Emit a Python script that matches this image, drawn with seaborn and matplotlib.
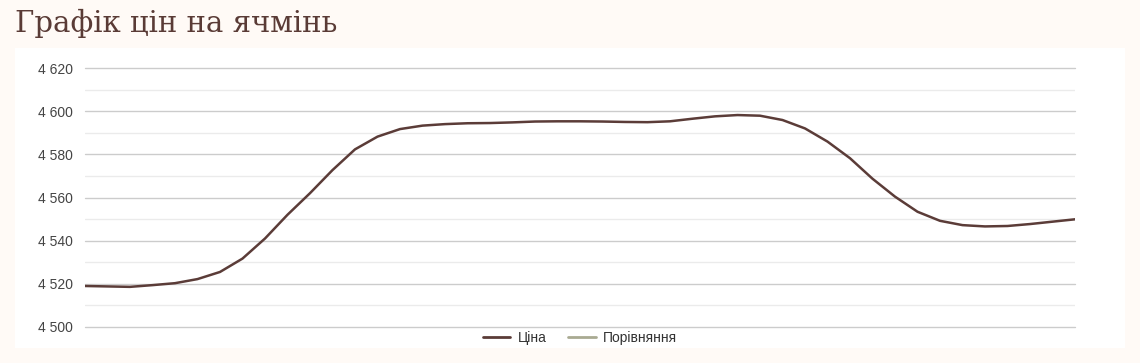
import matplotlib
matplotlib.use("Agg")
import matplotlib.pyplot as plt
import seaborn as sns
import pandas as pd
from matplotlib.lines import Line2D
from matplotlib.ticker import FixedLocator, FuncFormatter

price = [4519.0, 4518.8, 4518.6, 4519.4, 4520.3, 4522.2, 4525.5, 4531.7, 4541.0,
         4552.0, 4562.0, 4572.7, 4582.3, 4588.2, 4591.7, 4593.3, 4594.0, 4594.4,
         4594.5, 4594.8, 4595.2, 4595.3, 4595.3, 4595.2, 4595.0, 4594.9, 4595.3,
         4596.5, 4597.6, 4598.2, 4597.9, 4595.9, 4592.0, 4585.9, 4578.2, 4568.7,
         4560.4, 4553.4, 4549.2, 4547.2, 4546.6, 4546.8, 4547.7, 4548.8, 4549.9]
step = list(range(len(price)))
y_ticks = [4500, 4520, 4540, 4560, 4580, 4600, 4620]
y_minor = [4510, 4530, 4550, 4570, 4590, 4610]
title = "Графік цін на ячмінь"
series_names = ["Ціна", "Порівняння"]

BG = "#fffaf6"
BROWN = "#5b3c38"
GREYGREEN = "#a9aa92"

sns.set_theme(style="white")
plt.rcParams["font.family"] = ["Liberation Sans", "DejaVu Sans"]

fig = plt.figure(figsize=(11.4, 3.63), dpi=100)
fig.patch.set_facecolor(BG)
W, H = 1140, 363

# white panel
panel = fig.add_axes([15 / W, 1 - 348 / H, 1110 / W, 300 / H], zorder=-1)
panel.set_facecolor("white")
panel.set_xticks([])
panel.set_yticks([])
for s in panel.spines.values():
    s.set_visible(False)

ax = fig.add_axes([85 / W, 1 - 327 / H, 990 / W, 259 / H], zorder=1)
ax.set_facecolor("none")

df = pd.DataFrame({"step": step, "price": price})
sns.lineplot(data=df, x="step", y="price", ax=ax, color=BROWN, linewidth=1.8,
             legend=False, zorder=3, solid_joinstyle="round")

ax.set_xlim(step[0], step[-1])
ax.set_ylim(y_ticks[0], y_ticks[-1])
ax.set_yticks(y_ticks)
ax.yaxis.set_minor_locator(FixedLocator(y_minor))
ax.yaxis.set_major_formatter(FuncFormatter(lambda v, p: f"{int(v):,}".replace(",", " ")))
ax.set_axisbelow(True)
ax.grid(axis="y", which="major", color="#cccccc", linewidth=1.0)
ax.grid(axis="y", which="minor", color="#ebebeb", linewidth=1.0)
ax.grid(axis="x", visible=False)
for gl in ax.yaxis.get_gridlines():
    gl.set_clip_on(False)
ax.set_xticks([])
ax.set_xlabel("")
ax.set_ylabel("")
for s in ax.spines.values():
    s.set_visible(False)
ax.tick_params(axis="y", which="both", length=0, pad=9, labelsize=10,
               labelcolor="#444444")

handles = [Line2D([], [], color=BROWN, linewidth=2),
           Line2D([], [], color=GREYGREEN, linewidth=2)]
fig.legend(handles, series_names, loc="center", bbox_to_anchor=(580 / W, 1 - 338 / H),
           ncol=2, frameon=False, fontsize=10, handlelength=2.0, handletextpad=0.5,
           columnspacing=1.6, labelcolor="#333333")

fig.text(15 / W, 1 - 23 / H, title, fontsize=21, color="#5a3b36",
         family=["DejaVu Serif"], va="center", ha="left")

fig.savefig("out.png", dpi=100, facecolor=BG)
